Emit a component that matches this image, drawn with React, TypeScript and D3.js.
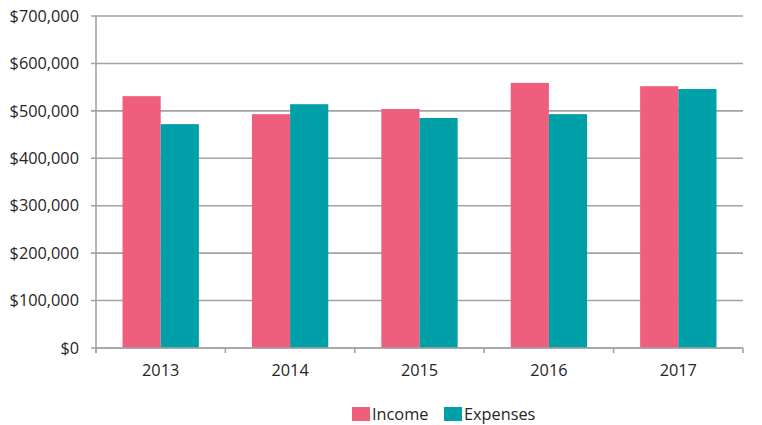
import React from "react";
import * as d3 from "d3";

const years = ["2013", "2014", "2015", "2016", "2017"];
const income = [531000, 493000, 504000, 559000, 552000];
const expenses = [472000, 514000, 485000, 493000, 546000];
const yTicks = [0, 100000, 200000, 300000, 400000, 500000, 600000, 700000];
const seriesNames = ["Income", "Expenses"];
const colors = ["#EF5F7D", "#00A0A8"];

export default function App() {
  const W = 762, H = 425;
  const left = 96, right = 743, top = 16, bottom = 348;
  const x = d3.scaleBand<string>().domain(years).range([left, right]).padding(0);
  const y = d3.scaleLinear().domain([0, 700000]).range([bottom, top]);
  const bw = x.bandwidth();
  const barW = bw * 0.295;
  const fmt = (v: number) => "$" + d3.format(",")(v);
  const font = "'Open Sans', 'Noto Sans', sans-serif";
  const series = [income, expenses];
  const legendX = [352, 444];
  return (
    <svg width={W} height={H} style={{ position: "absolute", left: 0, top: 0, background: "#fff" }}>
      {yTicks.map((t) => (
        <g key={t}>
          <line x1={left - 5} x2={right} y1={y(t)} y2={y(t)} stroke="#A3A3A3" strokeWidth={1.6} />
          <text x={79} y={y(t)} dy="0.35em" textAnchor="end" fontFamily={font} fontSize={16.3} fill="#262626">
            {fmt(t)}
          </text>
        </g>
      ))}
      {series.map((vals, si) =>
        years.map((yr, i) => {
          const bx = (x(yr) as number) + (bw - 2 * barW) / 2 + si * barW;
          return (
            <rect key={si + yr} x={bx} y={y(vals[i])} width={barW} height={bottom - y(vals[i])} fill={colors[si]} />
          );
        })
      )}
      <line x1={left} x2={left} y1={top} y2={bottom + 5} stroke="#A3A3A3" strokeWidth={1.6} />
      <line x1={left} x2={right} y1={bottom} y2={bottom} stroke="#A3A3A3" strokeWidth={1.6} />
      {[...years.map((yr) => x(yr) as number), right].map((px, i) => (
        <line key={i} x1={px} x2={px} y1={bottom} y2={bottom + 5} stroke="#A3A3A3" strokeWidth={1.6} />
      ))}
      {years.map((yr) => (
        <text key={yr} x={(x(yr) as number) + bw / 2} y={370} dy="0.35em" textAnchor="middle" fontFamily={font} fontSize={16.3} fill="#262626">
          {yr}
        </text>
      ))}
      {seriesNames.map((n, i) => (
        <g key={n}>
          <rect x={legendX[i]} y={407} width={18} height={14} fill={colors[i]} />
          <text x={legendX[i] + 20} y={414} dy="0.35em" fontFamily={font} fontSize={16.3} fill="#262626">
            {n}
          </text>
        </g>
      ))}
    </svg>
  );
}
